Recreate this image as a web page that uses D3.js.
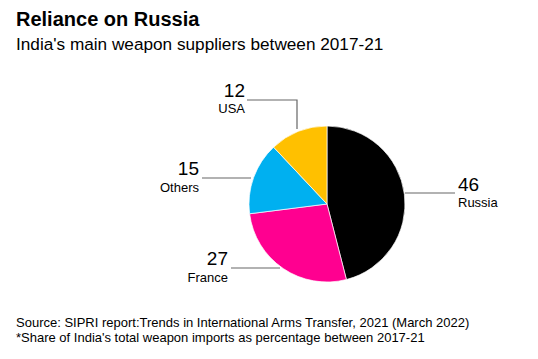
<!DOCTYPE html>
<html><head><meta charset="utf-8">
<script src="https://cdn.jsdelivr.net/npm/d3@7"></script>
<style>body{margin:0;background:#fff;}svg{display:block;font-family:"Liberation Sans",Arial,sans-serif;}</style>
</head><body>
<svg id="c" width="538" height="359"></svg>
<script>
const categories = ["Russia", "France", "Others", "USA"];
const values = [46, 27, 15, 12];
const colors = ["#000000", "#ff0090", "#00b0f0", "#ffc000"];

const svg = d3.select("#c");
const cx = 327, cy = 204, r = 78;

svg.append("text").attr("x", 16).attr("y", 26).attr("font-size", 20).attr("font-weight", "bold").text("Reliance on Russia");
svg.append("text").attr("x", 16).attr("y", 50).attr("font-size", 17.2).text("India's main weapon suppliers between 2017-21");

const pie = d3.pie().sort(null).value(d => d)(values);
const arc = d3.arc().innerRadius(0).outerRadius(r);
const g = svg.append("g").attr("transform", `translate(${cx},${cy})`);
g.selectAll("path").data(pie).join("path")
  .attr("d", arc).attr("fill", (d, i) => colors[i])
  .attr("stroke", "#fff").attr("stroke-width", 0.7);

// leader lines & labels (layout per category)
const labels = [
  {pts: [[405,193],[455,193]], x: 458, anchor: "start", ny: 191, cy: 207},
  {pts: [[280,268],[231,268]], x: 228, anchor: "end", ny: 265, cy: 282},
  {pts: [[251,178],[202,178]], x: 199, anchor: "end", ny: 175, cy: 192},
  {pts: [[297,129],[297,100],[247,100]], x: 245, anchor: "end", ny: 97, cy: 113}
];
const line = d3.line();
labels.forEach((l, i) => {
  svg.append("path").attr("d", line(l.pts)).attr("fill", "none").attr("stroke", "#666").attr("stroke-width", 1.2);
  svg.append("text").attr("x", l.x).attr("y", l.ny).attr("text-anchor", l.anchor).attr("font-size", 19).text(values[i]);
  svg.append("text").attr("x", l.x).attr("y", l.cy).attr("text-anchor", l.anchor).attr("font-size", 13).text(categories[i]);
});

svg.append("text").attr("x", 16).attr("y", 327).attr("font-size", 13).text("Source: SIPRI report:Trends in International Arms Transfer, 2021 (March 2022)");
svg.append("text").attr("x", 16).attr("y", 342).attr("font-size", 13).text("*Share of India's total weapon imports as percentage between 2017-21");
</script>
</body></html>
